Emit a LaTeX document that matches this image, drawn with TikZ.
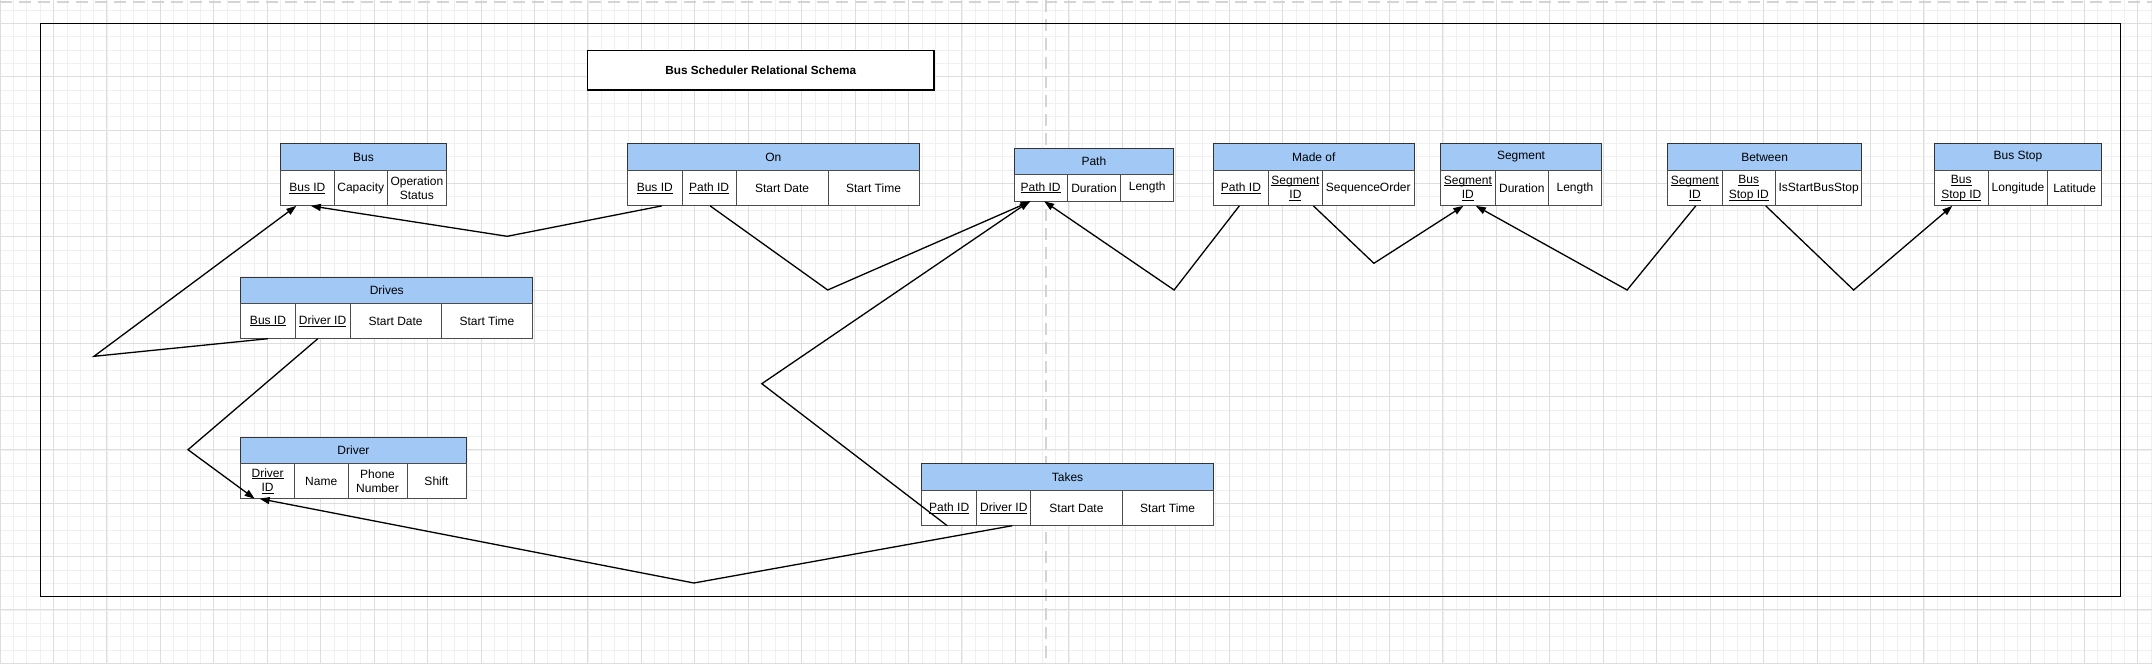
\documentclass[tikz,border=0pt]{standalone}
\usepackage{fontspec}
\setmainfont{Liberation Sans}
\usetikzlibrary{arrows.meta}

\definecolor{headblue}{RGB}{162,201,246}
\definecolor{gridminor}{RGB}{240,240,240}
\definecolor{gridmajor}{RGB}{222,222,222}
\definecolor{pagebreak}{RGB}{212,212,212}

\newcommand{\cellfont}{\fontsize{12}{14.5}\selectfont}
% key underline at a fixed depth, as the drawing tool does it
\newcommand{\keyline}[1]{{\setbox0\hbox{#1}\rlap{\rule[-2.2pt]{\wd0}{0.8pt}}\box0}}

\tikzset{
  minorline/.style={draw=gridminor, line width=0.6pt},
  majorline/.style={draw=gridmajor, line width=0.9pt},
  headbox/.style={draw=black!80, fill=headblue, line width=1pt, anchor=north west,
    inner sep=0pt, outer sep=0pt, minimum height=27pt, font=\cellfont},
  fieldcell/.style={draw=black!70, fill=white, line width=1pt, anchor=north west,
    inner sep=0pt, outer sep=0pt, minimum height=35.4pt, align=center, font=\cellfont},
  link/.style={line width=1.3pt, -{Triangle[length=10pt,width=7pt]}},
}

\begin{document}
\begin{tikzpicture}[x=1pt,y=-1pt]
    \useasboundingbox (0,0) rectangle (2152,664);
    % canvas grid
    \foreach \i in {0,...,161} {\draw[minorline] (\i*13.36,0) -- (\i*13.36,664);}
    \foreach \j in {-1,...,48} {\draw[minorline] (0,23.3+\j*13.33) -- (2152,23.3+\j*13.33);}
    \foreach \i in {0,...,40} {\draw[majorline] (\i*53.44,0) -- (\i*53.44,664);}
    \foreach \j in {-1,...,12} {\draw[majorline] (0,23.3+\j*53.33) -- (2152,23.3+\j*53.33);}
    \draw[pagebreak, line width=2pt, dash pattern=on 12pt off 7pt] (1046,0) -- (1046,664);
    \draw[pagebreak, line width=2pt, dash pattern=on 12pt off 7pt] (0,2) -- (2152,2);
    % frame and title
    \draw[line width=1.5pt] (40.5,23.3) rectangle (2120.6,596.7);
    \node[draw, line width=1.5pt, fill=white, minimum width=346.5pt, minimum height=39.7pt,
      font=\fontsize{11.8}{14}\selectfont\bfseries] (title) at (760.7,70.2) {Bus Scheduler Relational Schema};

    % Bus
    \node[headbox, minimum width=165.5pt] (bus) at (280.7,143.5) {Bus};
    \node[fieldcell, minimum width=53.3pt] (busid) at (bus.south west) {\keyline{Bus ID}};
    \node[fieldcell, minimum width=53.5pt] (buscap) at (busid.north east) {Capacity};
    \node[fieldcell, minimum width=58.7pt] (busstatus) at (buscap.north east) {Operation\\Status};
    % On
    \node[headbox, minimum width=291.5pt] (on) at (627.5,143.5) {On};
    \node[fieldcell, minimum width=54.5pt] (onbus) at (on.south west) {\keyline{Bus ID}};
    \node[fieldcell, minimum width=54.3pt] (onpath) at (onbus.north east) {\keyline{Path ID}};
    \node[fieldcell, minimum width=91.7pt] (ondate) at (onpath.north east) {Start Date};
    \node[fieldcell, minimum width=91pt] (ontime) at (ondate.north east) {Start Time};
    % Path
    \node[headbox, minimum width=159.7pt, minimum height=26pt] (path) at (1014,148.3) {Path};
    \node[fieldcell, minimum width=53.3pt, minimum height=27pt] (pathid) at (path.south west) {\keyline{Path ID}};
    \node[fieldcell, minimum width=53.4pt, minimum height=27pt] (pathdur) at (pathid.north east) {Duration};
    \node[fieldcell, minimum width=53pt, minimum height=27pt] (pathlen) at (pathdur.north east) {Length};
    % Made of
    \node[headbox, minimum width=200.5pt] (madeof) at (1213.5,143.5) {Made of};
    \node[fieldcell, minimum width=54.8pt] (mopath) at (madeof.south west) {\keyline{Path ID}};
    \node[fieldcell, minimum width=54.2pt] (moseg) at (mopath.north east) {\keyline{Segment}\\\keyline{ID}};
    \node[fieldcell, minimum width=91.5pt] (moorder) at (moseg.north east) {SequenceOrder};
    % Segment
    \node[headbox, minimum width=161.3pt] (segment) at (1440.4,143.5) {Segment};
    \node[fieldcell, minimum width=54.9pt] (segid) at (segment.south west) {\keyline{Segment}\\\keyline{ID}};
    \node[fieldcell, minimum width=52.9pt] (segdur) at (segid.north east) {Duration};
    \node[fieldcell, minimum width=53.5pt] (seglen) at (segdur.north east) {Length};
    % Between
    \node[headbox, minimum width=194.3pt] (between) at (1667.5,143.5) {Between};
    \node[fieldcell, minimum width=54.5pt] (btseg) at (between.south west) {\keyline{Segment}\\\keyline{ID}};
    \node[fieldcell, minimum width=53.5pt] (btstop) at (btseg.north east) {\keyline{Bus}\\\keyline{Stop ID}};
    \node[fieldcell, minimum width=86.3pt] (btstart) at (btstop.north east) {IsStartBusStop};
    % Bus Stop
    \node[headbox, minimum width=167.2pt] (busstop) at (1934.3,143.5) {Bus Stop};
    \node[fieldcell, minimum width=53.9pt] (stopid) at (busstop.south west) {\keyline{Bus}\\\keyline{Stop ID}};
    \node[fieldcell, minimum width=59.6pt] (stoplong) at (stopid.north east) {Longitude};
    \node[fieldcell, minimum width=53.7pt] (stoplat) at (stoplong.north east) {Latitude};
    % Drives
    \node[headbox, minimum width=291.7pt, minimum height=26.3pt] (drives) at (240.9,277) {Drives};
    \node[fieldcell, minimum width=54.2pt] (drbus) at (drives.south west) {\keyline{Bus ID}};
    \node[fieldcell, minimum width=54.9pt] (drdriver) at (drbus.north east) {\keyline{Driver ID}};
    \node[fieldcell, minimum width=91.3pt] (drdate) at (drdriver.north east) {Start Date};
    \node[fieldcell, minimum width=91.3pt] (drtime) at (drdate.north east) {Start Time};
    % Driver
    \node[headbox, minimum width=225.1pt, minimum height=26.3pt] (driver) at (240.9,437) {Driver};
    \node[fieldcell, minimum width=53.5pt] (driverid) at (driver.south west) {\keyline{Driver}\\\keyline{ID}};
    \node[fieldcell, minimum width=53.6pt] (drivername) at (driverid.north east) {Name};
    \node[fieldcell, minimum width=59pt] (driverphone) at (drivername.north east) {Phone\\Number};
    \node[fieldcell, minimum width=59pt] (drivershift) at (driverphone.north east) {Shift};
    % Takes
    \node[headbox, minimum width=291.6pt, minimum height=26.6pt] (takes) at (921.7,463.7) {Takes};
    \node[fieldcell, minimum width=55pt] (tkpath) at (takes.south west) {\keyline{Path ID}};
    \node[fieldcell, minimum width=54.2pt] (tkdriver) at (tkpath.north east) {\keyline{Driver ID}};
    \node[fieldcell, minimum width=91.1pt] (tkdate) at (tkdriver.north east) {Start Date};
    \node[fieldcell, minimum width=91.3pt] (tktime) at (tkdate.north east) {Start Time};

    % bends of the connectors
    \coordinate (bendonbus) at (507.2,236.3);
    \coordinate (benddrbus) at (94,356.3);
    \coordinate (benddrdriver) at (188,449.7);
    \coordinate (bendtkdriver) at (693.9,583);
    \coordinate (bendonpath) at (827.7,290);
    \coordinate (bendtkpath) at (761.8,383.7);
    \coordinate (bendmopath) at (1174.1,290);
    \coordinate (bendmoseg) at (1373.9,263.3);
    \coordinate (bendbtseg) at (1627.1,290);
    \coordinate (bendbtstop) at (1853.6,290);

    \draw[link] ([xshift=7pt]onbus.south) -- (bendonbus) -- ([xshift=3.5pt]busid.south);
    \draw[link] (drbus.south) -- (benddrbus) -- ([xshift=-11pt]busid.south);
    \draw[link] ([xshift=-4.7pt]drdriver.south) -- (benddrdriver) -- ([xshift=-13pt]driverid.south);
    \draw[link] ([xshift=8.5pt]tkdriver.south) -- (bendtkdriver) -- ([xshift=-8pt]driverid.south);
    \draw[link] ([xshift=1pt]onpath.south) -- (bendonpath) -- ([xshift=-10pt]pathid.south);
    \draw[link] ([xshift=-2pt]tkpath.south) -- (bendtkpath) -- ([xshift=-11pt]pathid.south);
    \draw[link] ([xshift=-1.6pt]mopath.south) -- (bendmopath) -- ([xshift=3.5pt]pathid.south);
    \draw[link] ([xshift=18pt]moseg.south) -- (bendmoseg) -- ([xshift=-4.5pt]segid.south);
    \draw[link] ([xshift=1pt]btseg.south) -- (bendbtseg) -- ([xshift=8pt]segid.south);
    \draw[link] ([xshift=17pt]btstop.south) -- (bendbtstop) -- ([xshift=-9pt]stopid.south);
\end{tikzpicture}
\end{document}
